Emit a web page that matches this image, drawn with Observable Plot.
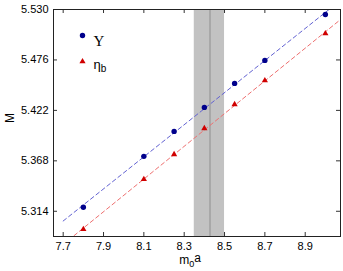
<!DOCTYPE html>
<html><head><meta charset="utf-8">
<script src="https://cdn.jsdelivr.net/npm/d3@7"></script>
<script src="https://cdn.jsdelivr.net/npm/@observablehq/plot@0.6"></script>
<style>body{margin:0;background:#fff}</style>
</head><body><div id="chart"></div>
<script>
const xTicks = [7.7, 7.9, 8.1, 8.3, 8.5, 8.7, 8.9];
const yTicks = [5.314, 5.368, 5.422, 5.476, 5.530];
const m0a = [7.8, 8.1, 8.25, 8.4, 8.55, 8.7, 9.0];
const upsilon = [5.3183, 5.3728, 5.3995, 5.4252, 5.4509, 5.4755, 5.5246];
const etab = [5.2948, 5.3482, 5.3749, 5.4027, 5.4284, 5.4540, 5.5043];
const band = [8.35, 8.50];
const bandCenter = 8.428;
const fitRange = [7.7, 9.075];
const xDomain = [7.652, 9.075];
const yDomain = [5.287, 5.530];

const W = 343, H = 271;
const mL = 53, mR = 3, mT = 9, mB = 35;
const tickPxX = (xDomain[1]-xDomain[0])/(W-mL-mR)*4;
const tickPxY = (yDomain[1]-yDomain[0])/(H-mT-mB)*4;

function fit(xs, ys) {
  const mx = d3.mean(xs), my = d3.mean(ys);
  let sxy = 0, sxx = 0;
  xs.forEach((x, i) => { sxy += (x-mx)*(ys[i]-my); sxx += (x-mx)*(x-mx); });
  const b = sxy/sxx, a = my - b*mx;
  return fitRange.map(x => ({x, y: a + b*x}));
}
const pts = (ys) => m0a.map((x, i) => ({x, y: ys[i]}));

const plot = Plot.plot({
  width: W, height: H,
  marginLeft: mL, marginRight: mR, marginTop: mT, marginBottom: mB,
  style: {fontFamily: "'Liberation Sans', Arial, sans-serif", fontSize: "11px", color: "#000", background: "#fff"},
  x: {domain: xDomain},
  y: {domain: yDomain},
  marks: [
    Plot.rect([band], {x1: d => d[0], x2: d => d[1], fill: "#c2c2c2"}),
    Plot.ruleX([bandCenter], {stroke: "#8e8e8e", strokeWidth: 1}),
    Plot.line(fit(m0a, upsilon), {x: "x", y: "y", stroke: "#6262d2", strokeWidth: 1, strokeDasharray: "4,3", clip: true}),
    Plot.line(fit(m0a, etab), {x: "x", y: "y", stroke: "#ee7070", strokeWidth: 1, strokeDasharray: "4,3", clip: true}),
    Plot.dot(pts(upsilon), {x: "x", y: "y", r: 2.7, fill: "#00008c", stroke: "none"}),
    Plot.dot(pts(etab), {x: "x", y: "y", r: 2.3, symbol: "triangle", fill: "#d00000", stroke: "none"}),
    // inward ticks
    Plot.ruleX(xTicks, {x: d => d, y1: yDomain[0], y2: yDomain[0] + tickPxY, stroke: "#333"}),
    Plot.ruleX(xTicks, {x: d => d, y1: yDomain[1], y2: yDomain[1] - tickPxY, stroke: "#333"}),
    Plot.ruleY(yTicks, {y: d => d, x1: xDomain[0], x2: xDomain[0] + tickPxX, stroke: "#333"}),
    Plot.ruleY(yTicks, {y: d => d, x1: xDomain[1], x2: xDomain[1] - tickPxX, stroke: "#333"}),
    Plot.axisX({ticks: xTicks, tickSize: 0, tickPadding: 6, tickFormat: d3.format(".1f"), label: null, fontSize: 11}),
    Plot.axisY({ticks: yTicks, tickSize: 0, tickPadding: 5, tickFormat: d3.format(".3f"), label: null, fontSize: 11}),
    Plot.frame({stroke: "#222", strokeWidth: 1}),
    // legend
    Plot.dot([0], {frameAnchor: "top-left", dx: 29, dy: 26, r: 2.7, fill: "#00008c", stroke: "none"}),
    Plot.dot([0], {frameAnchor: "top-left", dx: 29, dy: 52, r: 2.3, symbol: "triangle", fill: "#d00000", stroke: "none"}),
    Plot.text(["Υ"], {frameAnchor: "top-left", dx: 40, dy: 26, textAnchor: "start", fontSize: 15, fontFamily: "'Liberation Serif', 'DejaVu Serif', serif", fill: "#000"}),
    Plot.text(["ηb"], {frameAnchor: "top-left", dx: 40, dy: 50, textAnchor: "start", fontSize: 13, fill: "#000"}),
    // axis labels
    Plot.text(["M"], {frameAnchor: "left", dx: -43, rotate: -90, fontSize: 12, fill: "#000"}),
    Plot.text(["m0a"], {frameAnchor: "bottom", dx: -7, dy: 27, fontSize: 12, fill: "#000"})
  ]
});

const svg = d3.select(plot);
svg.selectAll("text").each(function() {
  const t = d3.select(this);
  const txt = this.textContent;
  if (txt === "ηb") {
    const ts = t.select("tspan").empty() ? t : t.select("tspan");
    ts.text("η");
    ts.append("tspan").attr("dy", "0.35em").attr("font-size", "10px").text("b");
  } else if (txt === "m0a") {
    const ts = t.select("tspan").empty() ? t : t.select("tspan");
    ts.text("m");
    ts.append("tspan").attr("dy", "0.35em").attr("font-size", "9px").text("0");
    ts.append("tspan").attr("dy", "-0.35em").text("a");
  }
});
document.getElementById("chart").appendChild(plot);
</script>
</body></html>
